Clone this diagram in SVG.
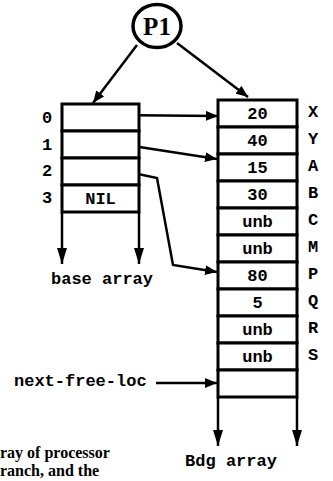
<svg xmlns="http://www.w3.org/2000/svg" width="333" height="481" viewBox="0 0 333 481">
<defs>
<marker id="ah" viewBox="0 0 12 10" refX="12" refY="5" markerWidth="12" markerHeight="10" markerUnits="userSpaceOnUse" orient="auto">
<path d="M0,0 L12,5 L0,10 Z" fill="#000"/>
</marker>
<marker id="ahd" viewBox="0 0 10 16" refX="5" refY="16" markerWidth="10" markerHeight="16" markerUnits="userSpaceOnUse" orient="0">
<path d="M0,0 L10,0 L5,16 Z" fill="#000"/>
</marker>
</defs>
<style>
.box{fill:#fff;stroke:#000;stroke-width:3}
.ln{fill:none;stroke:#000;stroke-width:2.5}
.m{font-family:"Liberation Mono",monospace;font-weight:bold;font-size:17px;fill:#000}
.c{text-anchor:middle}
.cap{font-family:"Liberation Serif",serif;font-weight:bold;font-size:16px;fill:#000}
</style>
<rect width="333" height="481" fill="#fff"/>
<g id="connectors">
<path class="ln" d="M137,45 L93,103" marker-end="url(#ah)"/>
<path class="ln" d="M177,43 L248,97" marker-end="url(#ah)"/>
<path class="ln" d="M107,115 L218,116" marker-end="url(#ah)"/>
<path class="ln" d="M107,142 L217,159" marker-end="url(#ah)"/>
<path class="ln" d="M110,168 L157,178 L173,265 L217,272" marker-end="url(#ah)"/>
<path class="ln" d="M156,383 L217,383" marker-end="url(#ah)"/>
<path class="ln" d="M62,212 L62,264" marker-end="url(#ahd)"/>
<path class="ln" d="M139,212 L139,264" marker-end="url(#ahd)"/>
<path class="ln" d="M218,397 L218,446" marker-end="url(#ahd)"/>
<path class="ln" d="M297,397 L297,446" marker-end="url(#ahd)"/>
</g>
<g id="P1">
<ellipse cx="157" cy="26" rx="24" ry="21.5" fill="#fff" stroke="#000" stroke-width="3.5"/>
<text x="157" y="35" class="c" font-family="Liberation Serif,serif" font-weight="bold" font-size="25">P1</text>
</g>
<g id="base-array">
<rect class="box" x="62" y="104" width="77" height="27"/>
<rect class="box" x="62" y="131" width="77" height="27"/>
<rect class="box" x="62" y="158" width="77" height="27"/>
<rect class="box" x="62" y="185" width="77" height="27"/>
<text class="m c" x="100.5" y="204">NIL</text>
<text class="m c" x="47" y="123">0</text>
<text class="m c" x="47" y="150">1</text>
<text class="m c" x="47" y="176">2</text>
<text class="m c" x="47" y="203">3</text>
<text class="m c" x="102" y="284">base array</text>
</g>
<g id="bdg-array">
<rect class="box" x="218" y="100" width="79" height="27"/>
<rect class="box" x="218" y="127" width="79" height="27"/>
<rect class="box" x="218" y="154" width="79" height="27"/>
<rect class="box" x="218" y="181" width="79" height="27"/>
<rect class="box" x="218" y="208" width="79" height="27"/>
<rect class="box" x="218" y="235" width="79" height="27"/>
<rect class="box" x="218" y="262" width="79" height="27"/>
<rect class="box" x="218" y="289" width="79" height="27"/>
<rect class="box" x="218" y="316" width="79" height="27"/>
<rect class="box" x="218" y="343" width="79" height="27"/>
<rect class="box" x="218" y="370" width="79" height="27"/>
<text class="m c" x="257.5" y="119">20</text>
<text class="m c" x="257.5" y="146">40</text>
<text class="m c" x="257.5" y="173">15</text>
<text class="m c" x="257.5" y="200">30</text>
<text class="m c" x="257.5" y="227">unb</text>
<text class="m c" x="257.5" y="254">unb</text>
<text class="m c" x="257.5" y="281">80</text>
<text class="m c" x="257.5" y="308">5</text>
<text class="m c" x="257.5" y="335">unb</text>
<text class="m c" x="257.5" y="362">unb</text>
<text class="m c" x="313" y="117">X</text>
<text class="m c" x="313" y="144">Y</text>
<text class="m c" x="313" y="171">A</text>
<text class="m c" x="313" y="198">B</text>
<text class="m c" x="313" y="225">C</text>
<text class="m c" x="313" y="252">M</text>
<text class="m c" x="313" y="279">P</text>
<text class="m c" x="313" y="306">Q</text>
<text class="m c" x="313" y="333">R</text>
<text class="m c" x="313" y="360">S</text>
<text class="m c" x="231" y="466">Bdg array</text>
</g>
<g id="next-free-loc">
<text class="m" x="14" y="386">next-free-loc</text>
</g>
<g id="caption">
<text class="cap" x="0" y="458">ray of processor</text>
<text class="cap" x="0" y="476">ranch, and the</text>
</g>
</svg>
